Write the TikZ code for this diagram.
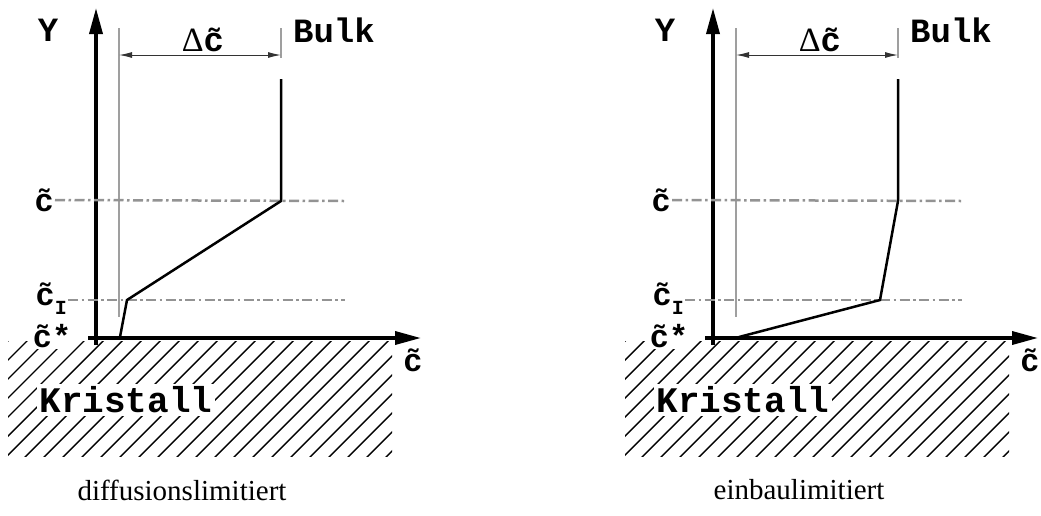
\documentclass[tikz,border=0pt]{standalone}
\usepackage{fontspec}
\setmainfont{Liberation Serif}
\newfontfamily\labelfont{Liberation Mono}
\usetikzlibrary{arrows.meta}

\newcommand{\ctil}{\~{c}}

\begin{document}
\begin{tikzpicture}[x=1pt, y=-1pt,
    axis/.style={line width=3.5pt, -{Triangle[length=26pt, width=13pt]}},
    guide/.style={gray!75, line width=1.2pt},
    level/.style={gray!85, line width=2.5pt,
                  dash pattern=on 10pt off 3.5pt on 2.5pt off 3.5pt},
    profile/.style={line width=2.5pt, line join=miter},
    dim/.style={black!80, line width=1pt,
                {Latex[length=13pt, width=6pt]}-{Latex[length=13pt, width=6pt]}},
    hatch/.style={line width=1.4pt},
    lbl/.style={font=\labelfont\bfseries\fontsize{34}{34}\selectfont, inner sep=0pt},
    conc/.style={font=\labelfont\bfseries\fontsize{32}{32}\selectfont, inner sep=1pt},
    kris/.style={font=\labelfont\bfseries\fontsize{36}{36}\selectfont,
                 fill=white, inner sep=3pt},
    caption/.style={font=\fontsize{29}{29}\selectfont, inner sep=0pt}
]
    \useasboundingbox (0,0) rectangle (1041,515);

    \foreach \s/\p/\kx/\ex/\cap in {0/l/127/120/diffusionslimitiert,
                                    617/r/263/122/einbaulimitiert}{
    \begin{scope}[xshift=\s pt]
        % Hatched crystal below the surface
        \begin{scope}
            \clip (8,341) rectangle (392,456);
            \foreach \i in {0,...,28}
                \draw[hatch] (\i*19-140,470) -- ++(150,-150);
        \end{scope}
        \node[kris] (K\p) at (126,400) {Kristall};

        % Axes
        \coordinate (Yb\p) at (96,345);
        \coordinate (Yt\p) at (96,8);
        \coordinate (Xb\p) at (88,338);
        \coordinate (Xe\p) at (421,338);
        \draw[axis] (Yb\p) -- (Yt\p);
        \draw[axis] (Xb\p) -- (Xe\p);

        % Guides and dimension
        \coordinate (Gt\p) at (119,28);
        \coordinate (Gb\p) at (119,317);
        \coordinate (Tt\p) at (281,28);
        \coordinate (Tb\p) at (281,58);
        \draw[guide] (Gt\p) -- (Gb\p);
        \draw[guide] (Tt\p) -- (Tb\p);
        \coordinate (Da\p) at (119,55);
        \coordinate (Db\p) at (281,55);
        \draw[dim] (Da\p) -- (Db\p);

        % Level lines
        \node[conc, fill=white] (Cs\p) at (52,336) {\ctil*};
        \node[conc, anchor=east] (C\p) at (55,200) {\ctil};
        \node[conc, anchor=east] (CI\p) at (68,299) {\ctil\raisebox{-9pt}{\fontsize{20}{20}\selectfont I}};
        \coordinate (Ce\p) at (345,201);
        \coordinate (CIe\p) at (345,300);
        \draw[level] (C\p.east) -- (Ce\p);
        \draw[level] (CI\p.east |- CIe\p) -- (CIe\p);

        % Concentration profile
        \coordinate (P0\p) at (281,79);
        \coordinate (P1\p) at (281,201);
        \coordinate (P2\p) at (\kx,300);
        \coordinate (P3\p) at (\ex,337);
        \draw[profile] (P0\p) -- (P1\p) -- (P2\p) -- (P3\p);

        % Labels
        \node[lbl] (Y\p) at (48,30) {Y};
        \node[lbl] (B\p) at (334,30) {Bulk};
        \node[lbl] (D\p) at (203,40) {{\rmfamily\mdseries Δ}\ctil};
        \node[conc] (Cx\p) at (413,360) {\ctil};
        \node[caption] (Cap\p) at (182,490) {\cap};
    \end{scope}
    }
\end{tikzpicture}
\end{document}
